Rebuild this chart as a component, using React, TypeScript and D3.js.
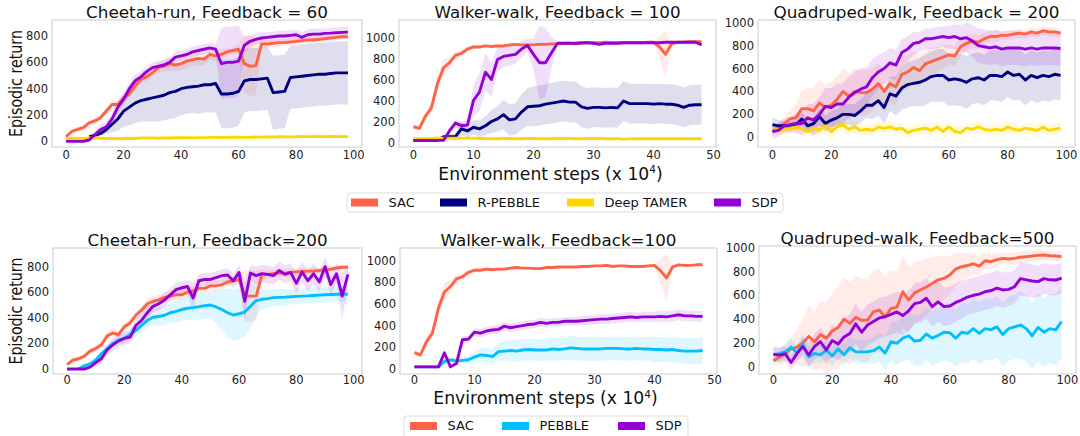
import React, { useEffect, useRef } from "react";
import * as d3 from "d3";

// x positions (x 10^4 env steps)
const STEPS_100 = [0, 2, 4, 6, 8, 10, 12, 14, 16, 18, 20, 22, 24, 26, 28, 30, 32, 34, 36, 38, 40, 42, 44, 46, 48, 50, 52, 54, 56, 58, 60, 62, 64, 66, 68, 70, 72, 74, 76, 78, 80, 82, 84, 86, 88, 90, 92, 94, 96, 98];
const STEPS_50 = [0, 1, 2, 3, 4, 5, 6, 7, 8, 9, 10, 11, 12, 13, 14, 15, 16, 17, 18, 19, 20, 21, 22, 23, 24, 25, 26, 27, 28, 29, 30, 31, 32, 33, 34, 35, 36, 37, 38, 39, 40, 41, 42, 43, 44, 45, 46, 47, 48];

const X_TICKS_100 = [0, 20, 40, 60, 80, 100];
const X_TICKS_50 = [0, 10, 20, 30, 40, 50];
const Y_TICKS_800 = [0, 200, 400, 600, 800];
const Y_TICKS_1000 = [0, 200, 400, 600, 800, 1000];

// Cheetah-run, Feedback = 60
const cheetah60Sac = [35, 75, 90, 105, 140, 155, 180, 230, 280, 280, 330, 360, 420, 470, 490, 520, 560, 570, 590, 580, 590, 610, 620, 630, 625, 660, 650, 660, 680, 690, 700, 590, 570, 575, 740, 740, 745, 750, 750, 755, 760, 765, 770, 770, 775, 780, 785, 790, 795, 795];
const cheetah60SacStd = [15, 20, 20, 20, 20, 25, 25, 25, 30, 30, 30, 30, 30, 30, 30, 30, 40, 40, 50, 50, 50, 50, 50, 50, 50, 40, 40, 40, 30, 30, 40, 220, 230, 220, 40, 30, 30, 30, 30, 30, 30, 30, 30, 25, 25, 25, 25, 20, 20, 20];
const cheetah60Rpb = [null, null, null, null, 35, 45, 60, 90, 130, 170, 230, 260, 290, 310, 320, 330, 340, 350, 370, 380, 400, 410, 415, 420, 430, 430, 440, 360, 360, 365, 380, 460, 470, 470, 475, 480, 370, 375, 380, 485, 490, 495, 500, 505, 510, 510, 515, 520, 520, 520];
const cheetah60RpbStd = [0, 0, 0, 0, 10, 15, 20, 30, 60, 90, 120, 140, 150, 160, 170, 180, 190, 190, 200, 200, 200, 200, 200, 210, 210, 210, 220, 260, 260, 260, 260, 240, 240, 240, 240, 240, 280, 280, 280, 240, 240, 240, 240, 240, 240, 240, 240, 240, 240, 240];
const cheetah60Tamer = [20, 22, 24, 22, 25, 25, 24, 22, 22, 20, 22, 24, 22, 25, 26, 25, 24, 26, 25, 27, 28, 27, 26, 28, 28, 30, 30, 29, 30, 31, 32, 30, 31, 33, 32, 34, 33, 35, 36, 34, 35, 38, 36, 37, 38, 36, 37, 38, 36, 35];
const cheetah60TamerStd = [6, 6, 6, 6, 6, 6, 6, 6, 6, 6, 6, 6, 6, 6, 6, 6, 6, 6, 6, 6, 7, 7, 7, 7, 7, 7, 7, 7, 7, 7, 8, 8, 8, 8, 8, 8, 8, 8, 8, 8, 8, 8, 8, 8, 8, 8, 8, 8, 8, 8];
const cheetah60Sdp = [0, 0, 0, 0, 10, 50, 90, 110, 170, 260, 320, 400, 460, 490, 530, 560, 570, 580, 600, 640, 650, 660, 680, 690, 700, 710, 700, 590, 600, 600, 610, 730, 760, 775, 785, 790, 795, 800, 800, 805, 810, 790, 810, 815, 815, 820, 822, 825, 828, 830];
const cheetah60SdpStd = [2, 2, 2, 2, 10, 30, 40, 40, 50, 50, 50, 50, 50, 40, 40, 40, 40, 40, 40, 40, 40, 40, 40, 40, 40, 40, 40, 270, 270, 270, 270, 60, 50, 40, 40, 40, 40, 40, 40, 40, 40, 40, 40, 40, 40, 40, 40, 40, 40, 40];

// Walker-walk, Feedback = 100 (top)
const walker100Sac = [150, 135, 250, 330, 560, 710, 760, 830, 850, 890, 910, 910, 920, 915, 920, 920, 930, 935, 930, 930, 930, 935, 935, 940, 940, 945, 945, 940, 945, 950, 950, 950, 955, 950, 950, 950, 950, 950, 950, 955, 955, 910, 840, 940, 955, 955, 960, 960, 960];
const walker100SacStd = [25, 25, 40, 50, 80, 80, 60, 40, 30, 25, 20, 15, 15, 15, 15, 10, 10, 10, 10, 10, 10, 10, 10, 10, 10, 10, 10, 10, 10, 10, 10, 10, 10, 10, 10, 10, 10, 10, 10, 10, 10, 110, 220, 30, 10, 10, 10, 10, 10];
const walker100Rpb = [20, 20, 20, 20, 20, 55, 55, 55, 130, 110, 145, 130, 160, 200, 225, 265, 215, 225, 290, 340, 345, 350, 365, 375, 385, 395, 385, 385, 340, 325, 335, 335, 330, 335, 330, 395, 370, 370, 370, 370, 365, 370, 365, 365, 355, 335, 355, 360, 360];
const walker100RpbStd = [5, 5, 5, 5, 5, 10, 20, 40, 60, 60, 70, 80, 90, 110, 120, 140, 150, 150, 170, 180, 190, 190, 190, 195, 195, 195, 195, 195, 195, 195, 190, 190, 190, 190, 190, 190, 190, 190, 190, 190, 190, 190, 190, 190, 190, 190, 190, 190, 190];
const walker100Tamer = [35, 35, 36, 38, 40, 42, 42, 40, 40, 40, 40, 38, 38, 36, 36, 38, 38, 36, 36, 38, 38, 36, 36, 36, 38, 38, 38, 36, 36, 38, 38, 38, 36, 36, 36, 32, 34, 36, 36, 36, 36, 36, 36, 36, 36, 36, 36, 36, 35];
const walker100TamerStd = [5, 5, 5, 5, 5, 5, 5, 5, 5, 5, 5, 5, 5, 5, 5, 5, 5, 5, 5, 5, 5, 5, 5, 5, 5, 5, 5, 5, 5, 5, 5, 5, 5, 5, 5, 5, 5, 5, 5, 5, 5, 5, 5, 5, 5, 5, 5, 5, 5];
const walker100Sdp = [20, 20, 20, 20, 20, 20, 110, 185, 160, 165, 400, 480, 670, 600, 790, 820, 830, 840, 890, 925, 840, 760, 760, 855, 945, 945, 945, 945, 950, 950, 945, 935, 945, 945, 945, 950, 950, 950, 950, 950, 950, 950, 955, 955, 955, 955, 955, 955, 930];
const walker100SdpStd = [3, 3, 3, 3, 3, 3, 30, 40, 40, 40, 150, 180, 180, 160, 120, 100, 100, 90, 80, 60, 150, 350, 330, 150, 20, 10, 10, 10, 10, 10, 10, 10, 10, 10, 10, 10, 10, 10, 10, 10, 10, 10, 10, 10, 10, 10, 10, 10, 15];

// Quadruped-walk, Feedback = 200
const quad200Sac = [50, 80, 120, 160, 170, 250, 250, 230, 300, 260, 280, 330, 400, 360, 400, 390, 390, 420, 470, 400, 470, 440, 550, 570, 610, 580, 640, 660, 680, 700, 720, 710, 790, 820, 840, 830, 860, 880, 880, 890, 890, 900, 910, 900, 920, 910, 930, 920, 920, 910];
const quad200SacStd = [40, 50, 60, 80, 120, 160, 180, 200, 200, 200, 200, 200, 200, 200, 200, 200, 200, 180, 180, 180, 170, 160, 150, 150, 140, 140, 130, 120, 110, 100, 90, 90, 80, 70, 60, 60, 50, 50, 50, 40, 40, 40, 40, 40, 40, 40, 40, 40, 40, 40];
const quad200Rpb = [110, 100, 100, 100, 110, 160, 100, 120, 180, 120, 150, 170, 200, 200, 190, 230, 280, 280, 320, 260, 380, 360, 430, 460, 470, 480, 500, 530, 540, 540, 500, 510, 500, 480, 510, 520, 500, 540, 540, 530, 570, 540, 550, 500, 540, 520, 540, 530, 550, 540];
const quad200RpbStd = [60, 50, 40, 40, 40, 60, 60, 60, 70, 70, 80, 80, 90, 90, 100, 100, 110, 120, 130, 140, 150, 170, 190, 200, 200, 210, 220, 220, 230, 230, 230, 230, 230, 230, 220, 220, 220, 220, 220, 220, 220, 220, 220, 220, 220, 220, 220, 220, 220, 220];
const quad200Tamer = [60, 70, 60, 80, 90, 70, 50, 80, 60, 100, 50, 90, 110, 70, 90, 60, 70, 60, 90, 80, 90, 70, 80, 40, 60, 70, 80, 60, 90, 50, 90, 50, 40, 80, 70, 90, 70, 60, 70, 60, 90, 70, 60, 80, 70, 60, 90, 60, 70, 80];
const quad200TamerStd = [40, 40, 45, 45, 50, 50, 50, 55, 55, 60, 60, 60, 60, 60, 55, 55, 55, 50, 50, 50, 50, 50, 50, 50, 50, 50, 50, 50, 50, 50, 50, 50, 50, 50, 50, 50, 50, 50, 50, 50, 50, 50, 50, 50, 50, 50, 50, 50, 50, 50];
const quad200Sdp = [50, 60, 100, 110, 120, 120, 170, 150, 200, 270, 260, 290, 290, 350, 390, 420, 440, 520, 570, 600, 650, 630, 740, 770, 820, 830, 860, 860, 870, 880, 870, 880, 860, 870, 840, 800, 790, 780, 790, 770, 780, 780, 780, 770, 780, 770, 780, 780, 780, 775];
const quad200SdpStd = [60, 60, 60, 70, 80, 100, 120, 140, 150, 160, 170, 180, 180, 180, 180, 180, 170, 160, 150, 140, 130, 130, 120, 110, 100, 90, 90, 90, 90, 90, 100, 110, 120, 130, 140, 150, 150, 150, 150, 150, 150, 150, 150, 150, 150, 150, 150, 150, 150, 150];

// Cheetah-run, Feedback=200
const cheetah200Sac = [35, 70, 80, 100, 140, 160, 190, 260, 280, 270, 330, 360, 420, 460, 510, 530, 540, 560, 570, 580, 580, 600, 610, 630, 630, 650, 650, 660, 680, 690, 700, 570, 570, 570, 740, 740, 745, 750, 750, 755, 760, 760, 765, 765, 770, 775, 780, 790, 795, 795];
const cheetah200SacStd = [15, 20, 20, 20, 20, 25, 25, 25, 30, 30, 30, 30, 30, 30, 40, 40, 40, 40, 40, 40, 40, 40, 40, 40, 40, 40, 40, 40, 30, 30, 40, 200, 200, 200, 40, 30, 30, 30, 30, 30, 30, 30, 30, 25, 25, 25, 25, 20, 20, 20];
const cheetah200Peb = [null, null, 0, 25, 40, 70, 120, 160, 200, 225, 240, 270, 300, 340, 380, 405, 410, 420, 440, 450, 465, 475, 480, 487, 495, 500, 485, 465, 440, 422, 432, 445, 490, 535, 545, 550, 558, 560, 562, 565, 568, 570, 572, 575, 578, 580, 582, 585, 585, 585];
const cheetah200PebStd = [0, 0, 0, 10, 15, 20, 20, 25, 30, 35, 40, 45, 50, 55, 60, 65, 70, 75, 80, 85, 90, 90, 95, 100, 100, 110, 130, 160, 190, 200, 200, 190, 180, 120, 80, 70, 70, 65, 65, 60, 60, 60, 60, 60, 60, 60, 60, 60, 60, 60];
const cheetah200Sdp = [0, 0, 0, 0, 15, 50, 80, 150, 190, 220, 240, 250, 340, 380, 440, 490, 510, 540, 580, 620, 635, 645, 555, 690, 700, 700, 715, 730, 735, 690, 755, 530, 750, 730, 745, 740, 730, 770, 740, 755, 670, 760, 690, 745, 680, 800, 660, 745, 570, 740];
const cheetah200SdpStd = [2, 2, 2, 2, 10, 30, 40, 40, 50, 50, 50, 50, 50, 50, 50, 50, 50, 50, 50, 50, 50, 50, 120, 50, 50, 50, 50, 50, 50, 60, 60, 150, 60, 70, 70, 70, 70, 70, 70, 70, 80, 80, 80, 80, 80, 80, 80, 80, 180, 80];

// Walker-walk, Feedback=100 (bottom)
const walker100bSac = [150, 130, 250, 330, 560, 710, 760, 830, 850, 890, 910, 910, 920, 915, 920, 920, 930, 935, 930, 930, 925, 925, 935, 935, 940, 940, 940, 940, 945, 945, 950, 950, 955, 945, 950, 950, 945, 945, 945, 950, 955, 905, 840, 940, 960, 955, 955, 960, 960];
const walker100bSacStd = [25, 25, 40, 50, 80, 80, 60, 40, 30, 25, 20, 15, 15, 15, 15, 10, 10, 10, 10, 10, 10, 10, 10, 10, 10, 10, 10, 10, 10, 10, 10, 10, 10, 10, 10, 10, 10, 10, 10, 10, 10, 110, 220, 30, 10, 10, 10, 10, 10];
const walker100bPeb = [20, 20, 20, 20, 20, 70, 85, 75, 80, 85, 110, 130, 125, 115, 160, 165, 170, 165, 175, 180, 175, 175, 175, 185, 180, 185, 195, 190, 185, 185, 185, 185, 190, 190, 190, 185, 185, 190, 185, 185, 180, 180, 175, 180, 170, 165, 165, 165, 170];
const walker100bPebStd = [0, 0, 0, 0, 5, 20, 25, 25, 30, 40, 50, 60, 70, 70, 80, 90, 95, 100, 100, 100, 100, 100, 100, 105, 105, 105, 110, 110, 110, 110, 110, 110, 110, 110, 110, 110, 110, 110, 110, 110, 115, 115, 115, 115, 115, 120, 120, 120, 120];
const walker100bSdp = [20, 20, 20, 20, 20, 150, 20, 50, 270, 275, 340, 330, 350, 360, 365, 395, 380, 390, 400, 410, 415, 430, 420, 430, 430, 440, 440, 440, 445, 450, 455, 460, 460, 465, 470, 475, 480, 475, 480, 480, 480, 485, 480, 490, 500, 490, 490, 485, 485];
const walker100bSdpStd = [3, 3, 3, 3, 3, 20, 10, 20, 30, 30, 35, 40, 40, 40, 40, 40, 40, 40, 40, 40, 40, 40, 40, 40, 40, 40, 40, 40, 40, 45, 45, 45, 45, 45, 45, 45, 45, 45, 45, 45, 45, 50, 50, 50, 50, 50, 50, 50, 50];

// Quadruped-walk, Feedback=500
const quad500Sac = [50, 80, 110, 150, 165, 200, 255, 210, 270, 240, 300, 330, 400, 364, 415, 390, 392, 460, 476, 420, 490, 500, 630, 560, 620, 645, 670, 700, 730, 742, 770, 820, 840, 850, 865, 845, 890, 882, 900, 910, 905, 910, 920, 925, 930, 935, 938, 932, 930, 925];
const quad500SacStd = [50, 60, 80, 100, 150, 200, 250, 250, 280, 300, 320, 350, 350, 350, 350, 350, 350, 350, 350, 330, 320, 300, 300, 280, 260, 250, 240, 220, 200, 180, 160, 140, 120, 100, 90, 80, 70, 60, 60, 50, 50, 50, 50, 50, 50, 50, 40, 40, 40, 40];
const quad500Peb = [100, 110, 125, 165, 115, 190, 85, 112, 100, 140, 90, 150, 100, 160, 125, 125, 126, 135, 165, 115, 210, 196, 240, 260, 215, 222, 275, 240, 262, 290, 285, 240, 290, 280, 320, 280, 320, 310, 335, 270, 320, 335, 350, 320, 260, 330, 290, 320, 310, 380];
const quad500PebStd = [60, 60, 60, 70, 70, 80, 80, 80, 80, 80, 80, 80, 90, 90, 100, 100, 100, 110, 120, 140, 160, 180, 190, 200, 210, 220, 220, 230, 230, 240, 240, 240, 250, 250, 250, 260, 260, 260, 260, 270, 270, 270, 280, 280, 280, 290, 290, 290, 300, 300];
const quad500Sdp = [105, 98, 110, 35, 110, 170, 100, 170, 210, 140, 220, 190, 250, 280, 360, 290, 350, 380, 410, 420, 440, 460, 430, 470, 530, 540, 575, 505, 545, 505, 510, 540, 560, 585, 600, 610, 630, 640, 660, 645, 650, 672, 740, 730, 720, 715, 740, 730, 728, 745];
const quad500SdpStd = [60, 60, 60, 60, 60, 80, 100, 110, 120, 120, 130, 140, 150, 160, 170, 170, 170, 170, 170, 170, 170, 170, 170, 170, 170, 170, 170, 170, 170, 160, 160, 160, 160, 150, 150, 150, 150, 150, 150, 150, 140, 140, 140, 140, 140, 130, 130, 130, 130, 130];

const COLORS: Record<string, string> = {
  SAC: "#ff6347",
  "R-PEBBLE": "#000080",
  PEBBLE: "#00bfff",
  "Deep TAMER": "#ffd700",
  SDP: "#9400d3",
};

const LEGEND_TOP = ["SAC", "R-PEBBLE", "Deep TAMER", "SDP"];
const LEGEND_BOTTOM = ["SAC", "PEBBLE", "SDP"];

const PANELS = [
  {
    title: "Cheetah-run, Feedback = 60", titleW: 242, steps: STEPS_100,
    box: { l: 52, r: 362, t: 20, b: 147 }, xDomain: [-4.9, 102.9], yDomain: [-43, 922],
    xTicks: X_TICKS_100, yTicks: Y_TICKS_800, ylabel: true, tickDy: 11.5,
    series: [
      { name: "SAC", mean: cheetah60Sac, std: cheetah60SacStd },
      { name: "R-PEBBLE", mean: cheetah60Rpb, std: cheetah60RpbStd },
      { name: "Deep TAMER", mean: cheetah60Tamer, std: cheetah60TamerStd },
      { name: "SDP", mean: cheetah60Sdp, std: cheetah60SdpStd },
    ],
  },
  {
    title: "Walker-walk, Feedback = 100", titleW: 246, steps: STEPS_50,
    box: { l: 399, r: 716, t: 20, b: 147 }, xDomain: [-2.4, 50.4], yDomain: [-43, 1167],
    xTicks: X_TICKS_50, yTicks: Y_TICKS_1000, ylabel: false, tickDy: 11.5,
    series: [
      { name: "SAC", mean: walker100Sac, std: walker100SacStd },
      { name: "R-PEBBLE", mean: walker100Rpb, std: walker100RpbStd },
      { name: "Deep TAMER", mean: walker100Tamer, std: walker100TamerStd },
      { name: "SDP", mean: walker100Sdp, std: walker100SdpStd },
    ],
  },
  {
    title: "Quadruped-walk, Feedback = 200", titleW: 286, steps: STEPS_100,
    box: { l: 758, r: 1075, t: 20, b: 147 }, xDomain: [-4.9, 102.9], yDomain: [-85, 1024],
    xTicks: X_TICKS_100, yTicks: Y_TICKS_1000, ylabel: false, tickDy: 11.5,
    series: [
      { name: "SAC", mean: quad200Sac, std: quad200SacStd },
      { name: "R-PEBBLE", mean: quad200Rpb, std: quad200RpbStd },
      { name: "Deep TAMER", mean: quad200Tamer, std: quad200TamerStd },
      { name: "SDP", mean: quad200Sdp, std: quad200SdpStd },
    ],
  },
  {
    title: "Cheetah-run, Feedback=200", titleW: 240, steps: STEPS_100,
    box: { l: 53, r: 362, t: 248, b: 374 }, xDomain: [-4.9, 102.9], yDomain: [-39, 946],
    xTicks: X_TICKS_100, yTicks: Y_TICKS_800, ylabel: true, tickDy: 10,
    series: [
      { name: "SAC", mean: cheetah200Sac, std: cheetah200SacStd },
      { name: "PEBBLE", mean: cheetah200Peb, std: cheetah200PebStd },
      { name: "SDP", mean: cheetah200Sdp, std: cheetah200SdpStd },
    ],
  },
  {
    title: "Walker-walk, Feedback=100", titleW: 236, steps: STEPS_50,
    box: { l: 400, r: 717, t: 248, b: 374 }, xDomain: [-2.4, 50.4], yDomain: [-46, 1115],
    xTicks: X_TICKS_50, yTicks: Y_TICKS_1000, ylabel: false, tickDy: 10,
    series: [
      { name: "SAC", mean: walker100bSac, std: walker100bSacStd },
      { name: "PEBBLE", mean: walker100bPeb, std: walker100bPebStd },
      { name: "SDP", mean: walker100bSdp, std: walker100bSdpStd },
    ],
  },
  {
    title: "Quadruped-walk, Feedback=500", titleW: 274, steps: STEPS_100,
    box: { l: 759, r: 1076, t: 246, b: 374 }, xDomain: [-4.9, 102.9], yDomain: [-61, 1014],
    xTicks: X_TICKS_100, yTicks: Y_TICKS_1000, ylabel: false, tickDy: 10,
    series: [
      { name: "SAC", mean: quad500Sac, std: quad500SacStd },
      { name: "PEBBLE", mean: quad500Peb, std: quad500PebStd },
      { name: "SDP", mean: quad500Sdp, std: quad500SdpStd },
    ],
  },
];

const FONT = "DejaVu Sans, Verdana, sans-serif";

const App = () => {
  const svgRef = useRef<SVGSVGElement>(null);

  useEffect(() => {
    const svg = d3.select(svgRef.current);
    svg.selectAll("*").remove();

    PANELS.forEach((p, pi) => {
      const x = d3.scaleLinear().domain(p.xDomain).range([p.box.l, p.box.r]);
      const y = d3.scaleLinear().domain(p.yDomain).range([p.box.b, p.box.t]);
      const g = svg.append("g");

      const clipId = `clip-${pi}`;
      g.append("clipPath")
        .attr("id", clipId)
        .append("rect")
        .attr("x", p.box.l)
        .attr("y", p.box.t)
        .attr("width", p.box.r - p.box.l)
        .attr("height", p.box.b - p.box.t);

      const plot = g.append("g").attr("clip-path", `url(#${clipId})`);

      const rows = p.series.map((s) =>
        p.steps.map((st, i) => ({ x: st, m: s.mean[i], sd: s.std[i] }))
      );

      // std bands first
      p.series.forEach((s, si) => {
        const area = d3
          .area<any>()
          .defined((d) => d.m != null)
          .x((d) => x(d.x))
          .y0((d) => y(d.m - d.sd))
          .y1((d) => y(d.m + d.sd));
        plot
          .append("path")
          .attr("d", area(rows[si]))
          .attr("fill", COLORS[s.name])
          .attr("fill-opacity", 0.13);
      });

      // mean lines
      p.series.forEach((s, si) => {
        const line = d3
          .line<any>()
          .defined((d) => d.m != null)
          .x((d) => x(d.x))
          .y((d) => y(d.m));
        plot
          .append("path")
          .attr("d", line(rows[si]))
          .attr("fill", "none")
          .attr("stroke", COLORS[s.name])
          .attr("stroke-width", 2.9)
          .attr("stroke-linejoin", "round");
      });

      // frame
      g.append("rect")
        .attr("x", p.box.l)
        .attr("y", p.box.t)
        .attr("width", p.box.r - p.box.l)
        .attr("height", p.box.b - p.box.t)
        .attr("fill", "none")
        .attr("stroke", "#cccccc")
        .attr("stroke-width", 1);

      // tick labels
      g.selectAll(".xt")
        .data(p.xTicks)
        .enter()
        .append("text")
        .attr("x", (d) => x(d))
        .attr("y", p.box.b + p.tickDy)
        .attr("text-anchor", "middle")
        .attr("font-size", 11.5)
        .attr("fill", "#222")
        .text((d) => d);

      g.selectAll(".yt")
        .data(p.yTicks)
        .enter()
        .append("text")
        .attr("x", p.box.l - 4)
        .attr("y", (d) => y(d))
        .attr("dy", "0.35em")
        .attr("text-anchor", "end")
        .attr("font-size", 11.5)
        .attr("fill", "#222")
        .text((d) => d);

      // title
      g.append("text")
        .attr("x", (p.box.l + p.box.r) / 2)
        .attr("y", p.box.t - 2.5)
        .attr("text-anchor", "middle")
        .attr("font-size", 16)
        .attr("textLength", p.titleW)
        .attr("lengthAdjust", "spacingAndGlyphs")
        .attr("fill", "#111")
        .text(p.title);

      if (p.ylabel) {
        const cy = (p.box.t + p.box.b) / 2;
        g.append("text")
          .attr("transform", `translate(22, ${cy}) rotate(-90)`)
          .attr("text-anchor", "middle")
          .attr("font-size", 17)
          .attr("textLength", 107)
          .attr("lengthAdjust", "spacingAndGlyphs")
          .attr("fill", "#111")
          .text("Episodic return");
      }
    });

    // x axis labels
    [
      { cx: 550.5, by: 179.5 },
      { cx: 545.5, by: 404 },
    ].forEach((lab) => {
      const t = svg
        .append("text")
        .attr("x", lab.cx)
        .attr("y", lab.by)
        .attr("text-anchor", "middle")
        .attr("font-size", 17.2)
        .attr("fill", "#111");
      t.append("tspan").text("Environment steps (x 10");
      t.append("tspan").attr("font-size", 10.5).attr("dy", -6.5).text("4");
      t.append("tspan").attr("dy", 6.5).text(")");
    });

    // legends
    const legends = [
      { items: LEGEND_TOP, box: { l: 347, r: 783, t: 193, b: 212 }, patchX: [351, 440, 567, 714], py: 198.5 },
      { items: LEGEND_BOTTOM, box: { l: 404, r: 688, t: 416, b: 445 }, patchX: [410, 502, 618], py: 422 },
    ];
    legends.forEach((lg) => {
      const g = svg.append("g");
      g.append("rect")
        .attr("x", lg.box.l)
        .attr("y", lg.box.t)
        .attr("width", lg.box.r - lg.box.l)
        .attr("height", lg.box.b - lg.box.t)
        .attr("rx", 3)
        .attr("fill", "#fff")
        .attr("stroke", "#dddddd");
      lg.items.forEach((name, i) => {
        g.append("rect")
          .attr("x", lg.patchX[i])
          .attr("y", lg.py)
          .attr("width", 27)
          .attr("height", 8)
          .attr("fill", COLORS[name]);
        g.append("text")
          .attr("x", lg.patchX[i] + 37.5)
          .attr("y", lg.py + 8.3)
          .attr("font-size", 13)
          .attr("fill", "#111")
          .text(name);
      });
    });
  }, []);

  return (
    <svg
      ref={svgRef}
      width={1080}
      height={436}
      style={{ position: "absolute", left: 0, top: 0, background: "#fff", fontFamily: FONT }}
    />
  );
};

export default App;
